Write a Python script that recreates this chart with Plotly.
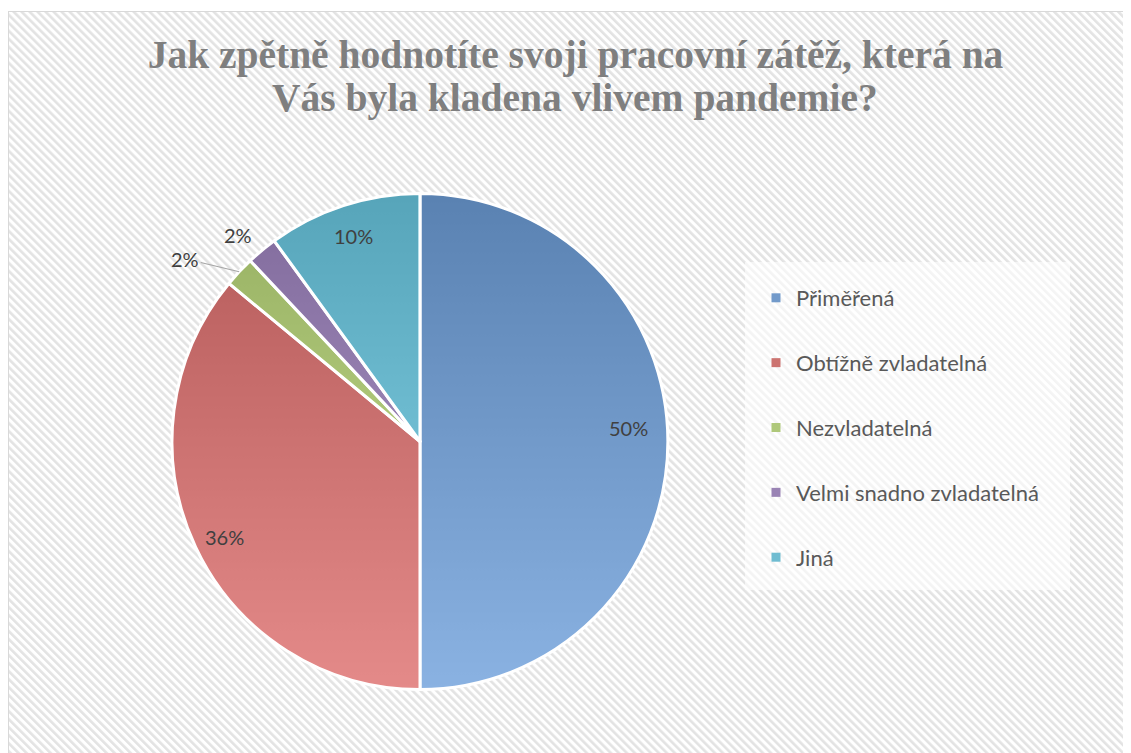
import base64
import math
import plotly.graph_objects as go

# data
categories = ["Přiměřená", "Obtížně zvladatelná", "Nezvladatelná",
              "Velmi snadno zvladatelná", "Jiná"]
counts = [25, 18, 1, 1, 5]
top_colors = [(79, 129, 189), (192, 80, 77), (155, 187, 89),
              (128, 100, 162), (75, 172, 198)]
title_lines = ["Jak zpětně hodnotíte svoji pracovní zátěž, která na",
               "Vás byla kladena vlivem pandemie?"]

# page body has an 8px margin, figure fills the rest of the window
W, H = 1123, 745

# pie placement (px, figure coords)
cx, cy, r = 412, 433.5, 248
dom_x = [(cx - r) / W, (cx + r) / W]
dom_y = [1 - (cy + r) / H, 1 - (cy - r) / H]

# where the % labels sit (fraction of radius along slice bisector, plus nudges)
label_r = [0.84, 0.87, 1.0, 1.11, 0.87]
label_dx = [0, 0, 0, -7, 0]
label_dy = [-14, 4, 0, 6, 0]
label_arrow = [None, None, (-54, -13), None, None]

# slices are semi transparent over a grey->white gradient disc, gives the office look
alpha = 0.65
g0 = 117
shift = (1 - alpha) * (255 - g0)


def see_through(c):
    v = []
    for ch in c:
        bottom = ch + 0.4 * (255 - ch)
        t = (ch + bottom - shift) / 2
        v.append(max(0, min(255, (t - (1 - alpha) * g0) / alpha)))
    return "rgba(%d,%d,%d,%.2f)" % (v[0], v[1], v[2], alpha)


def mid(c):
    return "rgb(%d,%d,%d)" % tuple(int(ch + 0.2 * (255 - ch)) for ch in c)


svg = f'''<svg xmlns="http://www.w3.org/2000/svg" width="{W}" height="{H}" viewBox="0 0 {W} {H}">
<defs>
<pattern id="h" patternUnits="userSpaceOnUse" width="5.66" height="10" patternTransform="rotate(-45)">
<rect width="5.66" height="10" fill="#ffffff"/><rect width="2.6" height="10" fill="#e3e3e3"/></pattern>
<linearGradient id="g" x1="0" y1="0" x2="0" y2="1">
<stop offset="0" stop-color="rgb({g0},{g0},{g0})"/><stop offset="1" stop-color="#ffffff"/></linearGradient>
</defs>
<rect width="{W}" height="{H}" fill="#ffffff"/>
<rect x="0.5" y="3.5" width="{W + 10}" height="{H + 10}" fill="url(#h)" stroke="#d9d9d9" stroke-width="1"/>
<rect x="737" y="254" width="325" height="328" fill="#ffffff" fill-opacity="0.6"/>
<circle cx="{cx}" cy="{cy}" r="{r}" fill="url(#g)"/>
</svg>'''
bg = "data:image/svg+xml;base64," + base64.b64encode(svg.encode("utf-8")).decode()

fig = go.Figure()

fig.add_trace(go.Pie(
    labels=categories,
    values=counts,
    sort=False,
    direction="clockwise",
    rotation=0,
    domain=dict(x=dom_x, y=dom_y),
    marker=dict(colors=[see_through(c) for c in top_colors],
                line=dict(color="white", width=3)),
    textinfo="none",
    hoverinfo="label+percent",
    showlegend=False,
))

# legend entries (one group each so they can be spaced out)
for name, c in zip(categories, top_colors):
    fig.add_trace(go.Scatter(
        x=[None], y=[None], mode="markers", name=name, legendgroup=name,
        marker=dict(symbol="square", size=9, color=mid(c)),
    ))

# percentage labels along each slice bisector
total = sum(counts)
cum = 0
annotations = []
for v, rf, dx, dy, arr in zip(counts, label_r, label_dx, label_dy, label_arrow):
    ang = 2 * math.pi * (cum + v / 2) / total
    cum += v
    px = cx + math.sin(ang) * r * rf + dx
    py = cy - math.cos(ang) * r * rf + dy
    a = dict(text="%d%%" % round(100 * v / total), xref="paper", yref="paper",
             x=px / W, y=1 - py / H, showarrow=False, xanchor="center", yanchor="middle",
             font=dict(family="Lato", size=20, color="#404040"))
    if arr:
        a.update(showarrow=True, ax=arr[0], ay=arr[1], arrowhead=0, arrowwidth=1.2,
                 arrowcolor="#a6a6a6", standoff=0, xanchor="auto", yanchor="auto")
    annotations.append(a)

annotations.append(dict(text=title_lines[1], xref="paper", yref="paper",
                        x=567 / W, y=1 - 90 / H, xanchor="center", yanchor="middle",
                        showarrow=False,
                        font=dict(family="Liberation Serif", size=39.5, color="#7f7f7f",
                                  weight="bold")))

fig.update_layout(
    width=W, height=H,
    margin=dict(l=0, r=0, t=0, b=0),
    paper_bgcolor="white",
    plot_bgcolor="rgba(0,0,0,0)",
    xaxis=dict(visible=False),
    yaxis=dict(visible=False),
    title=dict(text=title_lines[0], x=567.5 / W, xanchor="center", y=1 - 46 / H, yanchor="middle",
               font=dict(family="Liberation Serif", size=39.5, color="#7f7f7f", weight="bold")),
    annotations=annotations,
    legend=dict(x=748 / W, xanchor="left", y=1 - 269 / H, yanchor="top",
                bgcolor="rgba(0,0,0,0)", tracegroupgap=33.25,
                font=dict(family="Lato", size=22, color="#595959")),
    images=[dict(source=bg, xref="paper", yref="paper", x=0, y=1, sizex=1, sizey=1,
                 xanchor="left", yanchor="top", sizing="stretch", layer="below")],
)

fig.write_html("out.html")
